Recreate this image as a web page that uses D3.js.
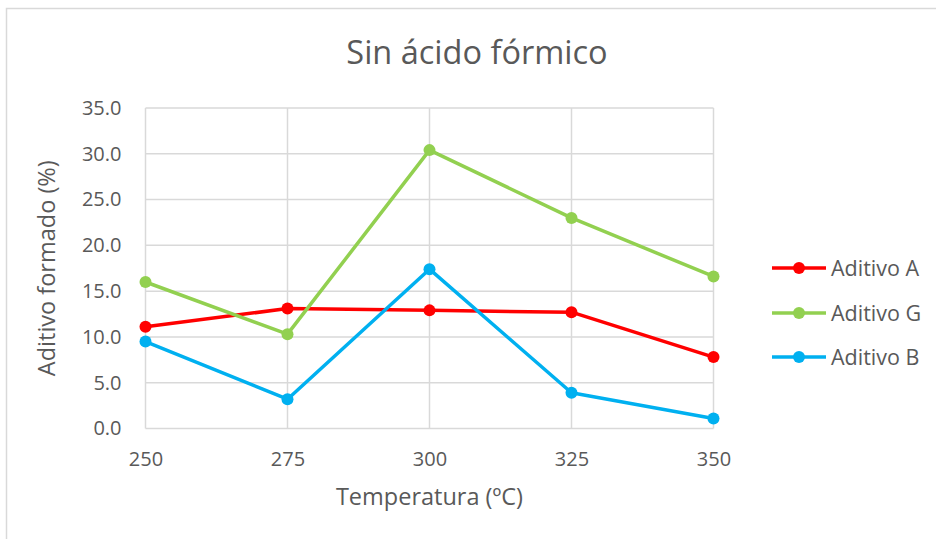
<!DOCTYPE html>
<html><head><meta charset="utf-8">
<script src="https://cdn.jsdelivr.net/npm/d3@7"></script>
<style>body{margin:0;background:#fff}svg{display:block}text{font-family:"Open Sans",sans-serif;fill:#595959}</style>
</head><body>
<script>
const temps = [250, 275, 300, 325, 350];
const aditivoA = [11.1, 13.1, 12.9, 12.7, 7.8];
const aditivoG = [16.0, 10.3, 30.4, 23.0, 16.6];
const aditivoB = [9.5, 3.2, 17.4, 3.9, 1.1];
const yTicks = [0, 5, 10, 15, 20, 25, 30, 35];
const seriesNames = ["Aditivo A", "Aditivo G", "Aditivo B"];
const seriesColors = ["#FF0000", "#92D050", "#00B0F0"];
const series = [aditivoA, aditivoG, aditivoB];

const W = 936, H = 539;
const svg = d3.select("body").append("svg").attr("width", W).attr("height", H);
svg.append("rect").attr("x", 6.5).attr("y", 8.5).attr("width", 960).attr("height", 560)
  .attr("fill", "#fff").attr("stroke", "#d9d9d9").attr("stroke-width", 1.5);

const x = d3.scaleLinear().domain([250, 350]).range([145.5, 713.5]);
const y = d3.scaleLinear().domain([0, 35]).range([428.5, 108]);

// gridlines
svg.append("g").selectAll("line").data(yTicks).join("line")
  .attr("x1", x(250)).attr("x2", x(350)).attr("y1", d => y(d)).attr("y2", d => y(d))
  .attr("stroke", "#d9d9d9").attr("stroke-width", 1.5);
svg.append("g").selectAll("line").data(temps).join("line")
  .attr("y1", y(0)).attr("y2", y(35)).attr("x1", d => x(d)).attr("x2", d => x(d))
  .attr("stroke", "#d9d9d9").attr("stroke-width", 1.5);

// axes (labels only)
const yAxis = d3.axisLeft(y).tickValues(yTicks).tickFormat(d3.format(".1f")).tickSize(0).tickPadding(24);
const gy = svg.append("g").attr("transform", `translate(${x(250)},0)`).call(yAxis);
gy.select(".domain").remove();
gy.selectAll("text").style("font-size", "20px").attr("fill", "#595959");

const xAxis = d3.axisBottom(x).tickValues(temps).tickFormat(d3.format("d")).tickSize(0).tickPadding(23);
const gx = svg.append("g").attr("transform", `translate(0,${y(0)})`).call(xAxis);
gx.select(".domain").remove();
gx.selectAll("text").style("font-size", "20px").attr("fill", "#595959");

// titles
svg.append("text").attr("x", 477).attr("y", 64).attr("text-anchor", "middle")
  .style("font-size", "32.5px").text("Sin ácido fórmico");
svg.append("text").attr("x", (x(250) + x(350)) / 2).attr("y", 505).attr("text-anchor", "middle")
  .style("font-size", "23.5px").text("Temperatura (ºC)");
svg.append("text").attr("transform", `translate(55,${(y(0) + y(35)) / 2}) rotate(-90)`)
  .attr("text-anchor", "middle").style("font-size", "23.5px").text("Aditivo formado (%)");

// series
const line = d3.line().x((d, i) => x(temps[i])).y(d => y(d));
series.forEach((s, k) => {
  const g = svg.append("g");
  g.append("path").datum(s).attr("d", line).attr("fill", "none")
    .attr("stroke", seriesColors[k]).attr("stroke-width", 3.5).attr("stroke-linejoin", "round");
  g.selectAll("circle").data(s).join("circle")
    .attr("cx", (d, i) => x(temps[i])).attr("cy", d => y(d)).attr("r", 6)
    .attr("fill", seriesColors[k]);
});

// legend
const legY = [268, 313, 357];
series.forEach((s, k) => {
  const g = svg.append("g").attr("transform", `translate(0,${legY[k]})`);
  g.append("line").attr("x1", 772).attr("x2", 826).attr("stroke", seriesColors[k]).attr("stroke-width", 3.5);
  g.append("circle").attr("cx", 799).attr("r", 6).attr("fill", seriesColors[k]);
  g.append("text").attr("x", 831).attr("dy", "0.35em").style("font-size", "21.5px").text(seriesNames[k]);
});
</script>
</body></html>
